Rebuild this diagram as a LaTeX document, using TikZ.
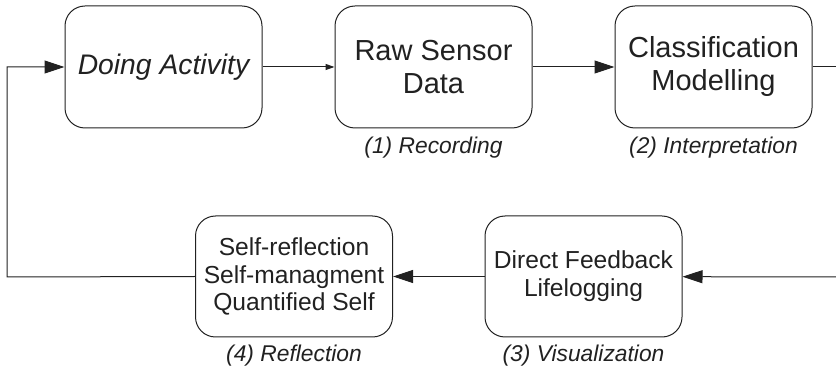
\documentclass[tikz,border=0pt]{standalone}
\usepackage{fontspec}
\setmainfont{Liberation Sans}
\usetikzlibrary{arrows.meta}
\definecolor{ink}{gray}{0.13}
\begin{document}
\begin{tikzpicture}[x=1pt,y=-1pt,
  stage/.style={draw=ink, line width=1pt, rounded corners=20pt, inner sep=0pt,
    minimum width=197pt, minimum height=122pt, align=center, text=ink},
  big/.style={font=\fontsize{29}{33}\selectfont},
  small/.style={font=\fontsize{24.6}{27.8}\selectfont},
  caption/.style={text=ink, inner sep=0pt, font=\fontsize{22.8}{26}\selectfont\itshape},
  flow/.style={draw=ink, line width=1pt, -{Triangle[length=20pt,width=13pt]}},
  thin/.style={draw=ink, line width=1pt, -{Triangle[length=9pt,width=6pt]}}]
\useasboundingbox (0,0) rectangle (836,371);

% upper row
\node[stage, font=\fontsize{28.3}{33}\selectfont\itshape] (act) at (163.5,67) {Doing Activity};
\node[stage, big] (raw) at (433.5,67) {Raw Sensor\\Data};
\node[stage, big] (cls) at (713.5,67) {Classification\\Modelling};

% lower row
\node[stage, small, minimum height=121pt] (refl) at (294,276.5) {Self-reflection\\Self-managment\\Quantified Self};
\node[stage, small, minimum height=121pt] (feed) at (583.5,276.5) {Direct Feedback\\Lifelogging};

% stage captions
\node[caption] (c1) at (433.5,148) {(1) Recording};
\node[caption] (c2) at (713.5,148) {(2) Interpretation};
\node[caption] (c3) at (583.5,356) {(3) Visualization};
\node[caption] (c4) at (294,356) {(4) Reflection};

% loop corners and open ends at the border
\coordinate (outR) at (836,67);
\coordinate (inR) at (836,277);
\coordinate (cornB) at (7,277);
\coordinate (cornT) at (7,67);

% connectors
\draw[thin] (act) -- (raw);
\draw[flow] (raw) -- (cls);
\draw[draw=ink, line width=1pt] (cls) -- (outR);
\draw[flow] (inR) -- (feed);
\draw[flow] (feed) -- (refl);
\draw[flow] (refl.west) -- (cornB) -- (cornT) -- (act.west);
\end{tikzpicture}
\end{document}
